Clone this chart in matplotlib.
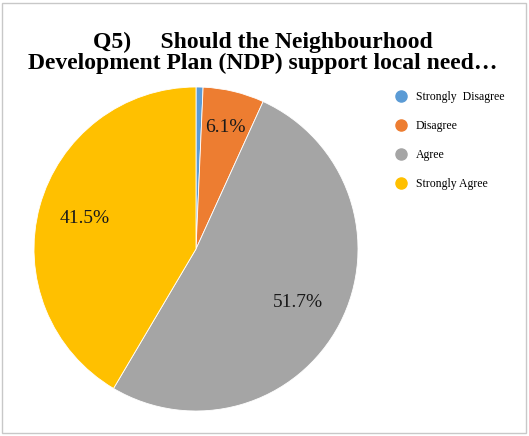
import numpy as np
import matplotlib.pyplot as plt
from matplotlib.patches import Rectangle
from matplotlib.lines import Line2D

plt.rcParams['font.family'] = ['Liberation Serif', 'DejaVu Serif']

# Respostas da pergunta Q5 (percentual)
categorias = ['Strongly  Disagree', 'Disagree', 'Agree', 'Strongly Agree']
valores = [0.7, 6.1, 51.7, 41.5]
cores = ['#5B9BD5', '#ED7D31', '#A5A5A5', '#FFC000']
# distância radial de cada rótulo (None = sem rótulo)
dist_rotulos = [None, 0.77, 0.71, 0.71]

fig = plt.figure(figsize=(5.29, 4.36), dpi=100)

# Moldura do gráfico
fig.patches.append(Rectangle((2 / 529, 3 / 436), 524 / 529, 430 / 436,
                             transform=fig.transFigure, fill=False,
                             edgecolor='#C8C8C8', linewidth=1.0))

fig.text(0.496, 1 - 53 / 436, 'Q5)     Should the Neighbourhood\nDevelopment Plan (NDP) support local need…',
         ha='center', va='center', fontsize=17, fontweight='bold', linespacing=1.02)

ax = fig.add_axes([(196 - 162) / 529, (436 - 249 - 162) / 436, 324 / 529, 324 / 436])
fatias, _ = ax.pie(valores, colors=cores, startangle=90, counterclock=False,
                   radius=1.0, wedgeprops=dict(edgecolor='white', linewidth=0.6))
ax.set_xlim(-1, 1)
ax.set_ylim(-1, 1)
ax.set_aspect('equal')

# Rótulos de percentual dentro das fatias
for fatia, v, d in zip(fatias, valores, dist_rotulos):
    if d is None:
        continue
    ang = np.deg2rad((fatia.theta1 + fatia.theta2) / 2)
    ax.text(d * np.cos(ang), d * np.sin(ang), f'{v:.1f}%',
            ha='center', va='center', fontsize=14, color='#1a1a1a')

# Legenda (marcadores redondos à esquerda)
marcadores = [Line2D([], [], marker='o', markersize=8, color=c, linestyle='none')
              for c in cores]
fig.legend(marcadores, categorias, loc='upper left',
           bbox_to_anchor=(386 / 529, 1 - 82 / 436), frameon=False,
           fontsize=8.5, labelspacing=1.42, handlelength=1.0,
           handletextpad=0.75, borderpad=0.3)

plt.savefig('out.png', dpi=100)
